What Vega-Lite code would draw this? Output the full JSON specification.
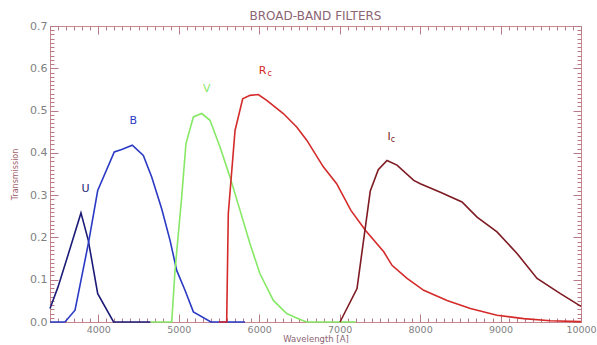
{
  "$schema": "https://vega.github.io/schema/vega-lite/v6.json",
  "width": 531,
  "height": 296,
  "autosize": {"type": "none"},
  "padding": {"left": 50, "top": 26, "right": 16, "bottom": 23},
  "background": "white",
  "title": {
    "text": "BROAD-BAND FILTERS",
    "fontSize": 12,
    "fontWeight": "normal",
    "font": "DejaVu Sans",
    "color": "#8c6472",
    "anchor": "middle",
    "offset": -3
  },
  "config": {
    "view": {"stroke": "#c98790", "strokeWidth": 1},
    "font": "DejaVu Sans"
  },
  "datasets": {
    "curves": [
      {"filter": "U", "wavelength": 3400, "transmission": 0.032},
      {"filter": "U", "wavelength": 3500, "transmission": 0.083},
      {"filter": "U", "wavelength": 3630, "transmission": 0.162},
      {"filter": "U", "wavelength": 3785, "transmission": 0.258},
      {"filter": "U", "wavelength": 3876, "transmission": 0.193},
      {"filter": "U", "wavelength": 3993, "transmission": 0.067},
      {"filter": "U", "wavelength": 4190, "transmission": 0.0},
      {"filter": "U", "wavelength": 4650, "transmission": 0.0},
      {"filter": "B", "wavelength": 3400, "transmission": 0.0},
      {"filter": "B", "wavelength": 3586, "transmission": 0.0},
      {"filter": "B", "wavelength": 3711, "transmission": 0.028},
      {"filter": "B", "wavelength": 3876, "transmission": 0.185},
      {"filter": "B", "wavelength": 3993, "transmission": 0.311},
      {"filter": "B", "wavelength": 4199, "transmission": 0.402},
      {"filter": "B", "wavelength": 4291, "transmission": 0.408},
      {"filter": "B", "wavelength": 4423, "transmission": 0.418},
      {"filter": "B", "wavelength": 4560, "transmission": 0.394},
      {"filter": "B", "wavelength": 4664, "transmission": 0.343},
      {"filter": "B", "wavelength": 4788, "transmission": 0.268},
      {"filter": "B", "wavelength": 4892, "transmission": 0.193},
      {"filter": "B", "wavelength": 4975, "transmission": 0.122},
      {"filter": "B", "wavelength": 5078, "transmission": 0.075},
      {"filter": "B", "wavelength": 5182, "transmission": 0.024},
      {"filter": "B", "wavelength": 5400, "transmission": 0.0},
      {"filter": "B", "wavelength": 5824, "transmission": 0.0},
      {"filter": "V", "wavelength": 4650, "transmission": 0.0},
      {"filter": "V", "wavelength": 4913, "transmission": 0.0},
      {"filter": "V", "wavelength": 4954, "transmission": 0.122},
      {"filter": "V", "wavelength": 5037, "transmission": 0.296},
      {"filter": "V", "wavelength": 5090, "transmission": 0.422},
      {"filter": "V", "wavelength": 5182, "transmission": 0.485},
      {"filter": "V", "wavelength": 5285, "transmission": 0.493},
      {"filter": "V", "wavelength": 5389, "transmission": 0.477},
      {"filter": "V", "wavelength": 5513, "transmission": 0.414},
      {"filter": "V", "wavelength": 5637, "transmission": 0.343},
      {"filter": "V", "wavelength": 5762, "transmission": 0.264},
      {"filter": "V", "wavelength": 5886, "transmission": 0.185},
      {"filter": "V", "wavelength": 6010, "transmission": 0.114},
      {"filter": "V", "wavelength": 6176, "transmission": 0.051},
      {"filter": "V", "wavelength": 6342, "transmission": 0.02},
      {"filter": "V", "wavelength": 6508, "transmission": 0.006},
      {"filter": "V", "wavelength": 6591, "transmission": 0.0},
      {"filter": "V", "wavelength": 7200, "transmission": 0.0},
      {"filter": "Rc", "wavelength": 5500, "transmission": 0.0},
      {"filter": "Rc", "wavelength": 5596, "transmission": 0.0},
      {"filter": "Rc", "wavelength": 5616, "transmission": 0.256},
      {"filter": "Rc", "wavelength": 5700, "transmission": 0.453},
      {"filter": "Rc", "wavelength": 5795, "transmission": 0.528},
      {"filter": "Rc", "wavelength": 5886, "transmission": 0.536},
      {"filter": "Rc", "wavelength": 5989, "transmission": 0.538},
      {"filter": "Rc", "wavelength": 6094, "transmission": 0.524},
      {"filter": "Rc", "wavelength": 6300, "transmission": 0.493},
      {"filter": "Rc", "wavelength": 6466, "transmission": 0.461},
      {"filter": "Rc", "wavelength": 6591, "transmission": 0.43},
      {"filter": "Rc", "wavelength": 6797, "transmission": 0.367},
      {"filter": "Rc", "wavelength": 6963, "transmission": 0.327},
      {"filter": "Rc", "wavelength": 7140, "transmission": 0.264},
      {"filter": "Rc", "wavelength": 7320, "transmission": 0.217},
      {"filter": "Rc", "wavelength": 7548, "transmission": 0.166},
      {"filter": "Rc", "wavelength": 7651, "transmission": 0.134},
      {"filter": "Rc", "wavelength": 7838, "transmission": 0.103},
      {"filter": "Rc", "wavelength": 8045, "transmission": 0.075},
      {"filter": "Rc", "wavelength": 8335, "transmission": 0.051},
      {"filter": "Rc", "wavelength": 8625, "transmission": 0.032},
      {"filter": "Rc", "wavelength": 8956, "transmission": 0.016},
      {"filter": "Rc", "wavelength": 9288, "transmission": 0.008},
      {"filter": "Rc", "wavelength": 9619, "transmission": 0.003},
      {"filter": "Rc", "wavelength": 10000, "transmission": 0.001},
      {"filter": "Ic", "wavelength": 7005, "transmission": 0.0},
      {"filter": "Ic", "wavelength": 7216, "transmission": 0.079},
      {"filter": "Ic", "wavelength": 7381, "transmission": 0.31},
      {"filter": "Ic", "wavelength": 7480, "transmission": 0.36},
      {"filter": "Ic", "wavelength": 7589, "transmission": 0.382},
      {"filter": "Ic", "wavelength": 7713, "transmission": 0.371},
      {"filter": "Ic", "wavelength": 7921, "transmission": 0.335},
      {"filter": "Ic", "wavelength": 8003, "transmission": 0.327},
      {"filter": "Ic", "wavelength": 8252, "transmission": 0.307},
      {"filter": "Ic", "wavelength": 8521, "transmission": 0.284},
      {"filter": "Ic", "wavelength": 8708, "transmission": 0.248},
      {"filter": "Ic", "wavelength": 8956, "transmission": 0.213},
      {"filter": "Ic", "wavelength": 9205, "transmission": 0.162},
      {"filter": "Ic", "wavelength": 9454, "transmission": 0.103},
      {"filter": "Ic", "wavelength": 9744, "transmission": 0.067},
      {"filter": "Ic", "wavelength": 10000, "transmission": 0.037}
    ],
    "labels": [
      {"filter": "U", "role": "name", "text": "U", "wavelength": 3843, "transmission": 0.315},
      {"filter": "B", "role": "name", "text": "B", "wavelength": 4435, "transmission": 0.476},
      {"filter": "V", "role": "name", "text": "V", "wavelength": 5348, "transmission": 0.55},
      {"filter": "Rc", "role": "name", "text": "R", "wavelength": 6041, "transmission": 0.593},
      {"filter": "Rc", "role": "subscript", "text": "c", "wavelength": 6132, "transmission": 0.586},
      {"filter": "Ic", "role": "name", "text": "I", "wavelength": 7614, "transmission": 0.438},
      {"filter": "Ic", "role": "subscript", "text": "c", "wavelength": 7664, "transmission": 0.431}
    ]
  },
  "resolve": {"axis": {"x": "independent", "y": "independent"}},
  "layer": [
    {
      "data": {"name": "curves"},
      "mark": {"type": "line", "strokeWidth": 1.6, "interpolate": "linear"},
      "encoding": {
        "x": {
          "field": "wavelength",
          "type": "quantitative",
          "scale": {"domain": [3400, 10000], "nice": false, "zero": false},
          "axis": {
            "orient": "bottom",
            "values": [3400,3500,3600,3700,3800,3900,4000,4100,4200,4300,4400,4500,4600,4700,4800,4900,5000,5100,5200,5300,5400,5500,5600,5700,5800,5900,6000,6100,6200,6300,6400,6500,6600,6700,6800,6900,7000,7100,7200,7300,7400,7500,7600,7700,7800,7900,8000,8100,8200,8300,8400,8500,8600,8700,8800,8900,9000,9100,9200,9300,9400,9500,9600,9700,9800,9900,10000],
            "format": "d",
            "labelExpr": "datum.value % 1000 === 0 ? datum.label : ''",
            "labelOverlap": false,
            "labelFlush": false,
            "labelColor": "#7f7f7f",
            "labelFontSize": 9.5,
            "labelPadding": 10,
            "domain": false,
            "grid": false,
            "tickColor": "#b87a84",
            "tickWidth": 1,
            "tickSize": {"condition": {"test": "datum.value % 1000 === 0", "value": -8}, "value": -4},
            "title": "Wavelength [A]",
            "titleColor": "#8c6472",
            "titleFontSize": 8.5,
            "titleFontWeight": "normal",
            "titleBaseline": "alphabetic",
            "titleY": 19
          }
        },
        "y": {
          "field": "transmission",
          "type": "quantitative",
          "scale": {"domain": [0, 0.7], "nice": false},
          "axis": {
            "orient": "left",
            "values": [0,0.01,0.02,0.03,0.04,0.05,0.06,0.07,0.08,0.09,0.1,0.11,0.12,0.13,0.14,0.15,0.16,0.17,0.18,0.19,0.2,0.21,0.22,0.23,0.24,0.25,0.26,0.27,0.28,0.29,0.3,0.31,0.32,0.33,0.34,0.35,0.36,0.37,0.38,0.39,0.4,0.41,0.42,0.43,0.44,0.45,0.46,0.47,0.48,0.49,0.5,0.51,0.52,0.53,0.54,0.55,0.56,0.57,0.58,0.59,0.6,0.61,0.62,0.63,0.64,0.65,0.66,0.67,0.68,0.69,0.7],
            "format": ".1f",
            "labelExpr": "abs(datum.value * 10 - round(datum.value * 10)) < 0.001 ? datum.label : ''",
            "labelOverlap": false,
            "labelFlush": false,
            "labelColor": "#7f7f7f",
            "labelFontSize": 11,
            "labelPadding": 11,
            "domain": false,
            "grid": false,
            "tickColor": "#b87a84",
            "tickWidth": 1,
            "tickSize": {"condition": {"test": "abs(datum.value * 10 - round(datum.value * 10)) < 0.001", "value": -8}, "value": -4},
            "title": "Transmission",
            "titleColor": "#a0606a",
            "titleFontSize": 8,
            "titleFontWeight": "normal",
            "titlePadding": 10
          }
        },
        "color": {
          "field": "filter",
          "type": "nominal",
          "scale": {
            "domain": ["U", "B", "V", "Rc", "Ic"],
            "range": ["#1c1c78", "#2a3ac4", "#86e866", "#d42a2a", "#7e1a22"]
          },
          "legend": null
        },
        "order": {"field": "wavelength", "type": "quantitative"}
      }
    },
    {
      "data": {"name": "labels"},
      "transform": [{"filter": "datum.role === 'name'"}],
      "mark": {"type": "text", "fontSize": 11, "align": "center", "baseline": "middle"},
      "encoding": {
        "x": {
          "field": "wavelength",
          "type": "quantitative",
          "axis": {
            "orient": "top",
            "values": [3400,3500,3600,3700,3800,3900,4000,4100,4200,4300,4400,4500,4600,4700,4800,4900,5000,5100,5200,5300,5400,5500,5600,5700,5800,5900,6000,6100,6200,6300,6400,6500,6600,6700,6800,6900,7000,7100,7200,7300,7400,7500,7600,7700,7800,7900,8000,8100,8200,8300,8400,8500,8600,8700,8800,8900,9000,9100,9200,9300,9400,9500,9600,9700,9800,9900,10000],
            "labels": false,
            "domain": false,
            "grid": false,
            "tickColor": "#b87a84",
            "tickWidth": 1,
            "tickSize": {"condition": {"test": "datum.value % 1000 === 0", "value": -8}, "value": -4},
            "title": null
          }
        },
        "y": {
          "field": "transmission",
          "type": "quantitative",
          "axis": {
            "orient": "right",
            "values": [0,0.01,0.02,0.03,0.04,0.05,0.06,0.07,0.08,0.09,0.1,0.11,0.12,0.13,0.14,0.15,0.16,0.17,0.18,0.19,0.2,0.21,0.22,0.23,0.24,0.25,0.26,0.27,0.28,0.29,0.3,0.31,0.32,0.33,0.34,0.35,0.36,0.37,0.38,0.39,0.4,0.41,0.42,0.43,0.44,0.45,0.46,0.47,0.48,0.49,0.5,0.51,0.52,0.53,0.54,0.55,0.56,0.57,0.58,0.59,0.6,0.61,0.62,0.63,0.64,0.65,0.66,0.67,0.68,0.69,0.7],
            "labels": false,
            "domain": false,
            "grid": false,
            "tickColor": "#b87a84",
            "tickWidth": 1,
            "tickSize": {"condition": {"test": "abs(datum.value * 10 - round(datum.value * 10)) < 0.001", "value": -8}, "value": -4},
            "title": null
          }
        },
        "text": {"field": "text", "type": "nominal"},
        "color": {
          "field": "filter",
          "type": "nominal",
          "scale": {
            "domain": ["U", "B", "V", "Rc", "Ic"],
            "range": ["#3a3a6e", "#3444b4", "#d6dc98", "#a04a62", "#5e2e3a"]
          },
          "legend": null
        }
      }
    },
    {
      "data": {"name": "labels"},
      "transform": [{"filter": "datum.role === 'subscript'"}],
      "mark": {"type": "text", "fontSize": 8, "align": "center", "baseline": "middle"},
      "encoding": {
        "x": {"field": "wavelength", "type": "quantitative", "axis": null},
        "y": {"field": "transmission", "type": "quantitative", "axis": null},
        "text": {"field": "text", "type": "nominal"},
        "color": {
          "field": "filter",
          "type": "nominal",
          "scale": {
            "domain": ["U", "B", "V", "Rc", "Ic"],
            "range": ["#3a3a6e", "#3444b4", "#d6dc98", "#a04a62", "#5e2e3a"]
          },
          "legend": null
        }
      }
    }
  ]
}
